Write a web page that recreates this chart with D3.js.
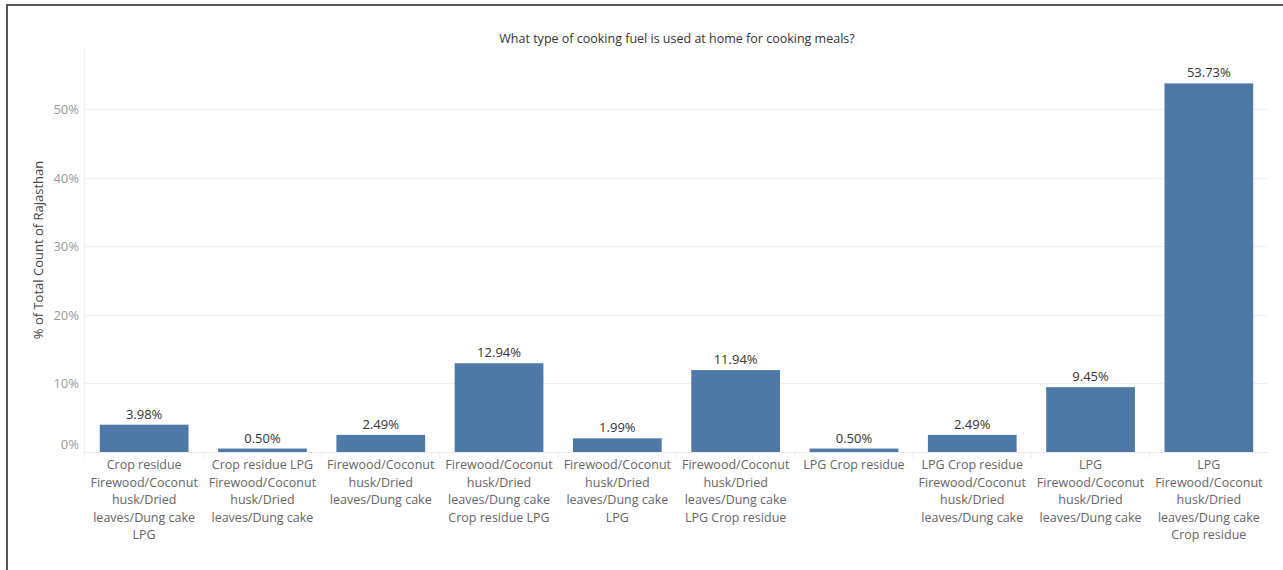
<!DOCTYPE html>
<html>
<head>
<meta charset="utf-8">
<script src="https://cdn.jsdelivr.net/npm/d3@7"></script>
<style>
  html, body { margin: 0; padding: 0; background: #fff; }
  svg { display: block; font-family: "Open Sans", "Noto Sans", sans-serif; }
</style>
</head>
<body>
<svg id="chart" width="1283" height="570"></svg>
<script>
const categories = [
  "Crop residue Firewood/Coconut husk/Dried leaves/Dung cake LPG",
  "Crop residue LPG Firewood/Coconut husk/Dried leaves/Dung cake",
  "Firewood/Coconut husk/Dried leaves/Dung cake",
  "Firewood/Coconut husk/Dried leaves/Dung cake Crop residue LPG",
  "Firewood/Coconut husk/Dried leaves/Dung cake LPG",
  "Firewood/Coconut husk/Dried leaves/Dung cake LPG Crop residue",
  "LPG Crop residue",
  "LPG Crop residue Firewood/Coconut husk/Dried leaves/Dung cake",
  "LPG Firewood/Coconut husk/Dried leaves/Dung cake",
  "LPG Firewood/Coconut husk/Dried leaves/Dung cake Crop residue"
];
const labelLines = [
  ["Crop residue", "Firewood/Coconut", "husk/Dried", "leaves/Dung cake", "LPG"],
  ["Crop residue LPG", "Firewood/Coconut", "husk/Dried", "leaves/Dung cake"],
  ["Firewood/Coconut", "husk/Dried", "leaves/Dung cake"],
  ["Firewood/Coconut", "husk/Dried", "leaves/Dung cake", "Crop residue LPG"],
  ["Firewood/Coconut", "husk/Dried", "leaves/Dung cake", "LPG"],
  ["Firewood/Coconut", "husk/Dried", "leaves/Dung cake", "LPG Crop residue"],
  ["LPG Crop residue"],
  ["LPG Crop residue", "Firewood/Coconut", "husk/Dried", "leaves/Dung cake"],
  ["LPG", "Firewood/Coconut", "husk/Dried", "leaves/Dung cake"],
  ["LPG", "Firewood/Coconut", "husk/Dried", "leaves/Dung cake", "Crop residue"]
];
const values = [3.98, 0.50, 2.49, 12.94, 1.99, 11.94, 0.50, 2.49, 9.45, 53.73];
const yTicks = [0, 10, 20, 30, 40, 50];
const titleText = "What type of cooking fuel is used at home for cooking meals?";
const yTitle = "% of Total Count of Rajasthan";

const svg = d3.select("#chart");
const W = 1283, H = 570;
const plot = { left: 85, right: 1268, top: 47, bottom: 452 };

// frame
svg.append("line").attr("x1", 7).attr("x2", 7).attr("y1", 5).attr("y2", H)
  .attr("stroke", "#555").attr("stroke-width", 2);
svg.append("line").attr("x1", 6).attr("x2", W).attr("y1", 5).attr("y2", 5)
  .attr("stroke", "#555").attr("stroke-width", 2);

// title
svg.append("text").attr("x", 677).attr("y", 43).attr("text-anchor", "middle")
  .attr("font-size", 12.5).attr("font-weight", 500).attr("fill", "#333").text(titleText);

const x = d3.scaleBand().domain(categories).range([plot.left, plot.right])
  .paddingInner(0.25).paddingOuter(0.125);
const y = d3.scaleLinear().domain([0, 50]).range([plot.bottom, 109]);

// gridlines
svg.append("g").selectAll("line").data(yTicks.filter(d => d > 0)).join("line")
  .attr("x1", plot.left).attr("x2", plot.right)
  .attr("y1", d => Math.round(y(d)) + 0.5).attr("y2", d => Math.round(y(d)) + 0.5)
  .attr("stroke", "#f0f0f0").attr("stroke-width", 1);
// baseline
svg.append("line").attr("x1", plot.left).attr("x2", plot.right)
  .attr("y1", plot.bottom + 0.5).attr("y2", plot.bottom + 0.5)
  .attr("stroke", "#e8e8e8");
// left axis line
svg.append("line").attr("x1", plot.left - 0.5).attr("x2", plot.left - 0.5)
  .attr("y1", plot.top).attr("y2", plot.bottom + 6)
  .attr("stroke", "#f0f0f0");
// column separators
const step = x.step();
svg.append("g").selectAll("line").data(d3.range(1, categories.length)).join("line")
  .attr("x1", d => plot.left + d * step).attr("x2", d => plot.left + d * step)
  .attr("y1", plot.bottom).attr("y2", plot.bottom + 6)
  .attr("stroke", "#ececec");

// y axis
const yAxis = d3.axisLeft(y).tickValues(yTicks).tickFormat(d => d + "%").tickSize(0).tickPadding(0);
const gy = svg.append("g").attr("transform", `translate(${plot.left - 6},0)`).call(yAxis);
gy.select(".domain").remove();
gy.selectAll("text").attr("font-size", 13).attr("fill", "#999")
  .attr("font-family", "'Open Sans', 'Noto Sans', sans-serif").attr("dy", "0.35em");
// Tableau lifts the 0% label above the baseline
gy.selectAll(".tick").filter(d => d === 0).select("text").attr("dy", "-0.3em");

// y title
svg.append("text").attr("transform", `translate(43, 250) rotate(-90)`)
  .attr("text-anchor", "middle").attr("font-size", 13).attr("fill", "#444")
  .text(yTitle);

// bars
svg.append("g").selectAll("rect").data(values).join("rect")
  .attr("x", (d, i) => x(categories[i]))
  .attr("width", x.bandwidth())
  .attr("y", d => y(d))
  .attr("height", d => plot.bottom - y(d))
  .attr("fill", "#4e79a7");

// value labels
svg.append("g").selectAll("text").data(values).join("text")
  .attr("x", (d, i) => x(categories[i]) + x.bandwidth() / 2)
  .attr("y", d => y(d) - 6)
  .attr("text-anchor", "middle").attr("font-size", 13).attr("fill", "#333")
  .text(d => d.toFixed(2) + "%");

// x labels
const gx = svg.append("g");
categories.forEach((c, i) => {
  const t = gx.append("text")
    .attr("x", x(c) + x.bandwidth() / 2)
    .attr("y", 469)
    .attr("text-anchor", "middle").attr("font-size", 12.5).attr("fill", "#666");
  labelLines[i].forEach((ln, j) => {
    t.append("tspan").attr("x", x(c) + x.bandwidth() / 2)
      .attr("y", 469 + j * 17.6).text(ln);
  });
});
</script>
</body>
</html>
